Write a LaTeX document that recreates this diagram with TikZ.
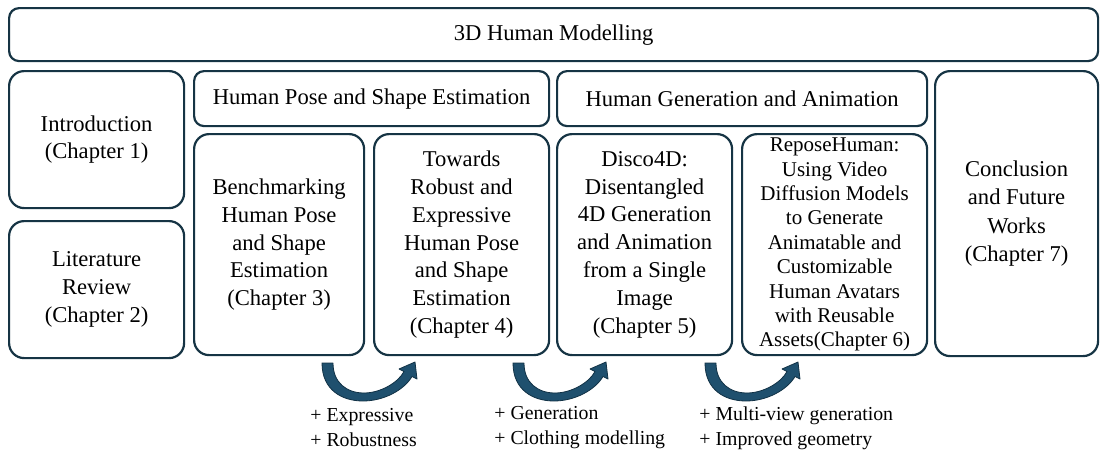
\documentclass[tikz,border=0pt]{standalone}
\usepackage{fontspec}
\setmainfont{Liberation Serif}
\definecolor{boxline}{RGB}{22,52,68}
\definecolor{arrfill}{RGB}{31,80,110}
\definecolor{arrline}{RGB}{18,50,70}
\tikzset{
  box/.style={draw=boxline, line width=1.1pt, rounded corners=7.5pt, anchor=north west, align=center, inner sep=0pt,
    font=\fontsize{11.3}{13.9}\selectfont},
  flatbox/.style={box, rounded corners=5pt},
  lbl/.style={anchor=west, align=left, inner sep=0pt, font=\fontsize{9.9}{12.5}\selectfont},
}
\newcommand{\ucurve}[3]{%
  \begin{scope}[shift={(#1,#2)}]
    \path[fill=arrfill, draw=arrline, line width=0.4pt, line join=round, name=#3]
      (0,0) .. controls (0,27) and (20,38) .. (41,38)
      .. controls (62,38) and (82,27) .. (90,13.5)
      -- (95,16) -- (93,-1) -- (77,6) -- (82,8.5)
      .. controls (76,20) and (58,30) .. (42,30)
      .. controls (25,30) and (11,20) .. (11,0) -- cycle;
  \end{scope}}
\begin{document}
\begin{tikzpicture}[x=0.5pt,y=-0.5pt]
\useasboundingbox[fill=white] (0,0) rectangle (1105,455);
\node[flatbox, minimum width=544.5pt, minimum height=26.5pt] (top) at (8,7) {3D Human Modelling};
\node[box, minimum width=87.5pt, minimum height=68.5pt] (intro) at (8,70) {Introduction\\(Chapter 1)};
\node[box, minimum width=87.5pt, minimum height=68.5pt] (lit) at (8,220) {Literature\\Review\\(Chapter 2)};
\node[flatbox, minimum width=177.5pt, minimum height=27.5pt] (hpse) at (193,70) {Human Pose and Shape Estimation};
\node[flatbox, minimum width=185pt, minimum height=27.5pt] (hga) at (556,70) {Human Generation and Animation};
\node[box, minimum width=85pt, minimum height=110.5pt] (bench) at (193,133) {Benchmarking\\Human Pose\\and Shape\\Estimation\\(Chapter 3)};
\node[box, minimum width=87.5pt, minimum height=110.5pt] (tow) at (373,133) {Towards\\Robust and\\Expressive\\Human Pose\\and Shape\\Estimation\\(Chapter 4)};
\node[box, minimum width=87.5pt, minimum height=110.5pt] (disco) at (556,133) {Disco4D:\\Disentangled\\4D Generation\\and Animation\\from a Single\\Image\\(Chapter 5)};
\node[box, minimum width=92.5pt, minimum height=110.5pt, font=\fontsize{10.5}{12.2}\selectfont] (repose) at (741,133) {ReposeHuman:\\Using Video\\Diffusion Models\\to Generate\\Animatable and\\Customizable\\Human Avatars\\with Reusable\\Assets(Chapter 6)};
\node[box, minimum width=81.5pt, minimum height=142.5pt, font=\fontsize{11.3}{14.3}\selectfont] (concl) at (934,70) {Conclusion\\and Future\\Works\\(Chapter 7)};
\ucurve{322}{363}{a1}
\ucurve{513}{363}{a2}
\ucurve{705}{363}{a3}
\node[lbl] (l1) at (310,428) {+ Expressive\\+ Robustness};
\node[lbl] (l2) at (494,428) {+ Generation\\+ Clothing modelling};
\node[lbl] (l3) at (699,428) {+ Multi-view generation\\+ Improved geometry};
\end{tikzpicture}
\end{document}
